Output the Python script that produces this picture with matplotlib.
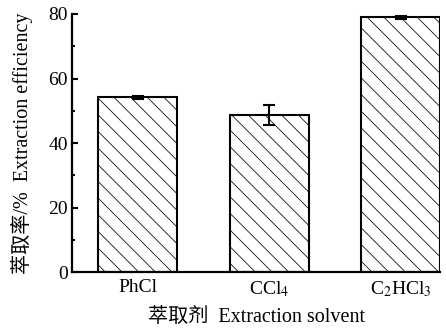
import numpy as np
import matplotlib
matplotlib.use("Agg")
import matplotlib.pyplot as plt
from matplotlib.ticker import MultipleLocator

# data
solvents = ["PhCl", "CCl$_4$", "C$_2$HCl$_3$"]
efficiency = [54.2, 48.7, 79.0]
errors = [0.5, 3.0, 0.4]

plt.rcParams['font.family'] = ['Liberation Serif', 'Noto Sans CJK SC']
plt.rcParams['mathtext.fontset'] = 'stix'
plt.rcParams['hatch.linewidth'] = 0.55
plt.rcParams['hatch.color'] = '#999999'

fig = plt.figure(figsize=(4.46, 3.33), dpi=100)
ax = fig.add_axes([0.161, 0.183, 0.826, 0.775])

x = np.arange(len(solvents))
ax.bar(x, efficiency, width=0.6, color='white', edgecolor='black',
       linewidth=1.5, hatch='\\\\', zorder=2)
ax.errorbar(x, efficiency, yerr=errors, fmt='none', ecolor='black',
            elinewidth=1.5, capsize=4, capthick=1.5, zorder=3)

ax.set_xlim(-0.5, 2.3)
ax.set_ylim(0, 80)
ax.set_xticks(x)
ax.set_xticklabels(solvents, fontsize=14)
ax.tick_params(axis='x', length=0, pad=5)
ax.yaxis.set_major_locator(MultipleLocator(20))
ax.yaxis.set_minor_locator(MultipleLocator(10))
ax.tick_params(axis='y', which='major', direction='in', length=4, width=1.5, labelsize=14, pad=3)
ax.tick_params(axis='y', which='minor', direction='in', length=2.5, width=1.5)

for side in ['top', 'right']:
    ax.spines[side].set_visible(False)
for side in ['left', 'bottom']:
    ax.spines[side].set_linewidth(1.6)

ax.set_ylabel("萃取率/%  Extraction efficiency", fontsize=14.5)
ax.yaxis.set_label_coords(-0.105, 0.5)
ax.set_xlabel("萃取剂  Extraction solvent", fontsize=14.5, labelpad=7)

fig.savefig("out.png", dpi=100)
